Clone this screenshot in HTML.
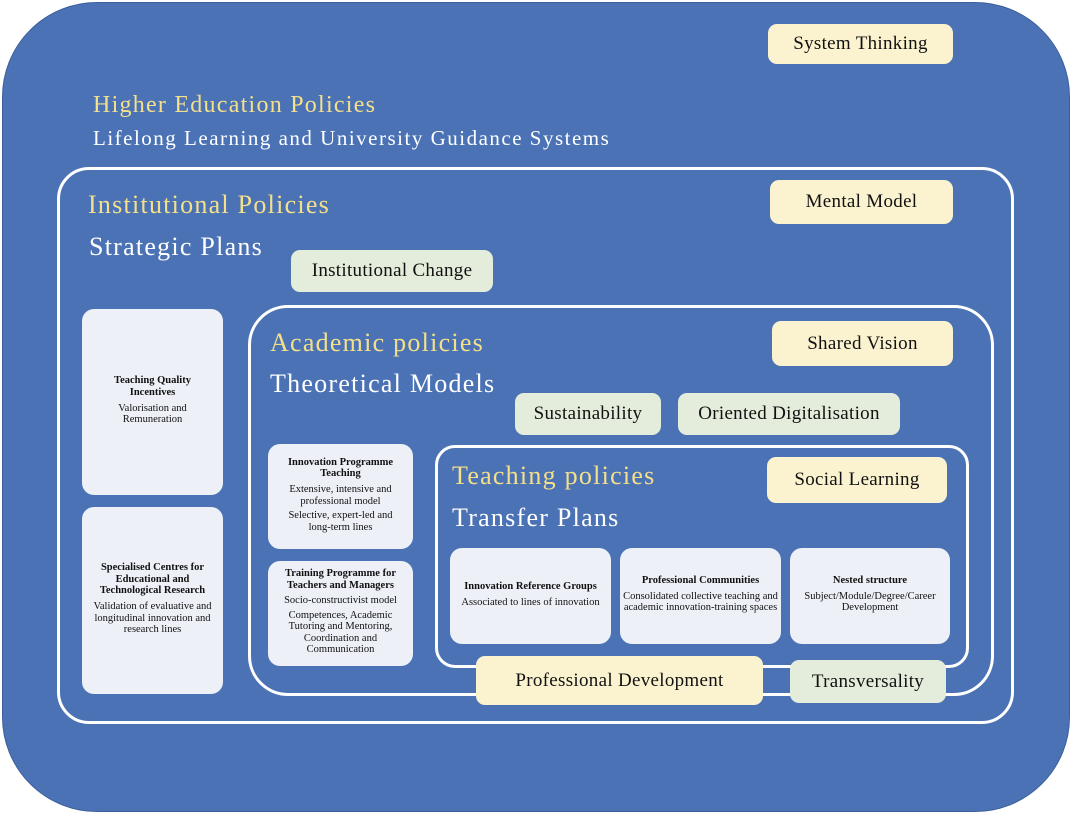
<!DOCTYPE html>
<html><head><style>
*{margin:0;padding:0;box-sizing:border-box}
body{width:1072px;height:815px;background:#fff;position:relative;overflow:hidden;font-family:"Liberation Serif",serif}
.a{position:absolute}
.frame{position:absolute;border:3px solid #fff}
.pill{position:absolute;border-radius:9px;display:flex;align-items:center;justify-content:center;font-size:19px;color:#111;letter-spacing:0.3px}
.y{background:#fbf3cf}.g{background:#e4eddb}
.box{position:absolute;background:#eef0f8;border-radius:12px;display:flex;flex-direction:column;align-items:center;justify-content:center;text-align:center;font-size:10.5px;line-height:1.1;color:#111;padding:0 9px}
.box b{display:block;margin-bottom:4px}
.box p{margin-bottom:3px}
.t{position:absolute;white-space:nowrap;line-height:1;letter-spacing:1.25px}
.yl{color:#f5e08a}.wh{color:#fff}
</style></head><body>
<div class="a" style="left:2px;top:2px;width:1068px;height:810px;background:#4a72b5;border-radius:95px;border:1px solid #3a5f9c"></div>
<div class="frame" style="left:57px;top:167px;width:957px;height:557px;border-radius:32px"></div>
<div class="frame" style="left:248px;top:305px;width:746px;height:391px;border-radius:40px"></div>
<div class="frame" style="left:435px;top:445px;width:534px;height:223px;border-radius:20px"></div>

<div class="t yl" style="left:93px;top:93px;font-size:24px">Higher Education Policies</div>
<div class="t wh" style="left:93px;top:128px;font-size:21px;letter-spacing:1.5px">Lifelong Learning and University Guidance Systems</div>
<div class="t yl" style="left:88px;top:192px;font-size:26px">Institutional Policies</div>
<div class="t wh" style="left:89px;top:234px;font-size:26px">Strategic Plans</div>
<div class="t yl" style="left:270px;top:330px;font-size:26px">Academic policies</div>
<div class="t wh" style="left:270px;top:371px;font-size:26px">Theoretical Models</div>
<div class="t yl" style="left:452px;top:463px;font-size:26px">Teaching policies</div>
<div class="t wh" style="left:452px;top:505px;font-size:26px">Transfer Plans</div>

<div class="pill y" style="left:768px;top:24px;width:185px;height:40px">System Thinking</div>
<div class="pill y" style="left:770px;top:180px;width:183px;height:44px">Mental Model</div>
<div class="pill y" style="left:772px;top:321px;width:181px;height:45px">Shared Vision</div>
<div class="pill y" style="left:767px;top:457px;width:180px;height:46px">Social Learning</div>
<div class="pill y" style="left:476px;top:656px;width:287px;height:49px">Professional Development</div>
<div class="pill g" style="left:291px;top:250px;width:202px;height:42px">Institutional Change</div>
<div class="pill g" style="left:515px;top:393px;width:146px;height:42px">Sustainability</div>
<div class="pill g" style="left:678px;top:393px;width:222px;height:42px">Oriented Digitalisation</div>
<div class="pill g" style="left:790px;top:660px;width:156px;height:43px">Transversality</div>

<div class="box" style="left:82px;top:309px;width:141px;height:186px;padding:0 22px"><b>Teaching Quality Incentives</b><p>Valorisation and Remuneration</p></div>
<div class="box" style="left:82px;top:507px;width:141px;height:187px;padding:0 4px"><b>Specialised Centres for Educational and Technological Research</b><p>Validation of evaluative and longitudinal innovation and research lines</p></div>
<div class="box" style="left:268px;top:444px;width:145px;height:105px"><b>Innovation Programme Teaching</b><p>Extensive, intensive and professional model</p><p>Selective, expert-led and long-term lines</p></div>
<div class="box" style="left:268px;top:561px;width:145px;height:105px"><b>Training Programme for Teachers and Managers</b><p>Socio-constructivist model</p><p>Competences, Academic Tutoring and Mentoring, Coordination and Communication</p></div>
<div class="box" style="left:450px;top:548px;width:161px;height:96px;padding:0 3px"><b>Innovation Reference Groups</b><p>Associated to lines of innovation</p></div>
<div class="box" style="left:620px;top:548px;width:161px;height:96px;padding:0 3px"><b>Professional Communities</b><p>Consolidated collective teaching and academic innovation-training spaces</p></div>
<div class="box" style="left:790px;top:548px;width:160px;height:96px"><b>Nested structure</b><p>Subject/Module/Degree/Career Development</p></div>
</body></html>
